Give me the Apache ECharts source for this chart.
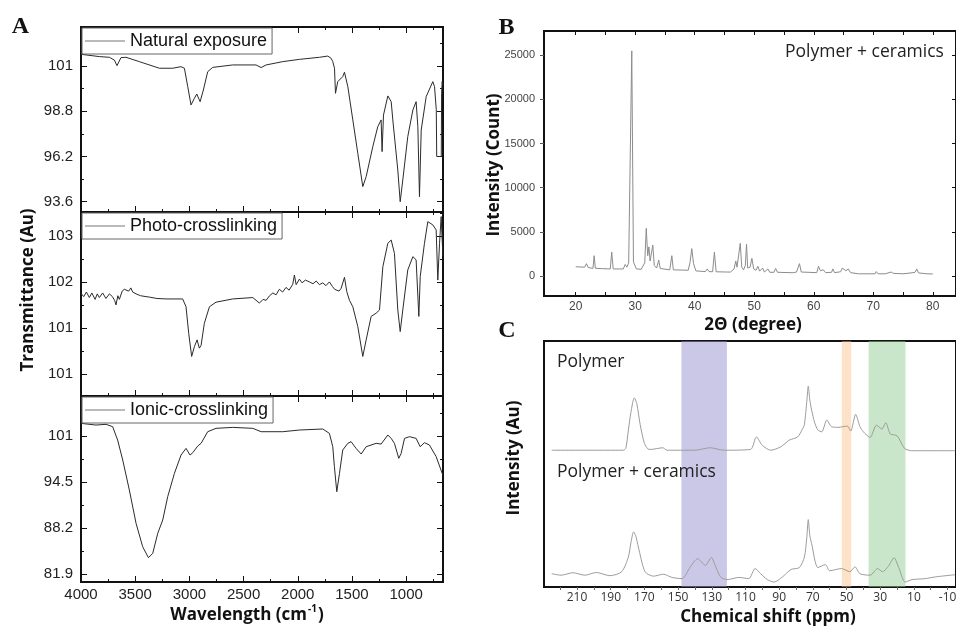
<!DOCTYPE html>
<html>
<head>
<meta charset="utf-8">
<script src="https://cdn.jsdelivr.net/npm/echarts@6/dist/echarts.min.js"></script>
<style>html,body{margin:0;padding:0;background:#fff}#c{width:956px;height:626px}</style>
</head>
<body>
<div id="c"></div>
<script>
// ================= DATA =================
// Panel A : FTIR spectra, [wavenumber cm-1, transmittance]
const naturalExposure = [[4000,102.07],[3831,101.94],[3738,101.90],[3692,101.74],[3668,101.42],[3631,101.88],[3585,101.90],[3462,101.65],[3277,101.27],[3154,101.27],[3077,101.36],[3046,101.27],[3015,100.21],[2985,99.16],[2954,99.54],[2932,99.79],[2901,99.35],[2871,100.02],[2831,101.07],[2785,101.32],[2600,101.46],[2385,101.46],[2338,101.31],[2292,101.46],[2138,101.65],[1985,101.78],[1800,101.90],[1723,101.97],[1692,101.84],[1677,101.65],[1661,101.27],[1652,99.83],[1631,100.50],[1585,100.79],[1569,101.04],[1538,100.21],[1492,98.30],[1446,96.38],[1400,94.47],[1369,95.04],[1308,96.76],[1262,97.91],[1231,98.30],[1222,96.48],[1209,98.58],[1169,99.68],[1138,99.35],[1123,98.30],[1077,95.42],[1055,93.60],[1031,94.85],[985,97.34],[938,98.87],[908,99.35],[892,97.91],[877,93.89],[861,97.72],[815,99.64],[754,100.50],[738,100.21],[722,98.90],[718,96.20],[676,96.20],[673,99.80],[668,100.50],[662,100.30]];
const photoCrosslinking = [[4000,101.75],[3975,101.68],[3950,101.78],[3923,101.66],[3900,101.76],[3870,101.62],[3850,101.74],[3831,101.66],[3800,101.76],[3770,101.64],[3738,101.74],[3710,101.68],[3690,101.60],[3677,101.50],[3660,101.70],[3646,101.62],[3620,101.80],[3600,101.84],[3585,101.88],[3560,101.80],[3540,101.87],[3523,101.78],[3492,101.74],[3450,101.70],[3400,101.68],[3369,101.67],[3300,101.64],[3215,101.63],[3062,101.63],[3031,101.46],[3006,100.88],[2979,100.38],[2954,100.59],[2929,100.74],[2908,100.56],[2892,100.62],[2862,101.10],[2815,101.46],[2754,101.56],[2600,101.63],[2415,101.66],[2354,101.54],[2320,101.62],[2292,101.60],[2260,101.70],[2230,101.76],[2200,101.72],[2170,101.84],[2140,101.78],[2108,101.88],[2080,101.82],[2046,101.95],[2031,102.15],[2015,101.94],[1985,102.06],[1960,101.98],[1930,102.04],[1892,102.00],[1860,101.96],[1830,102.02],[1800,101.94],[1770,101.98],[1740,101.92],[1708,102.00],[1680,101.90],[1660,101.84],[1646,101.88],[1620,101.80],[1600,101.86],[1585,101.88],[1569,102.10],[1548,101.79],[1523,101.60],[1492,101.46],[1446,101.03],[1400,100.38],[1369,100.74],[1323,101.25],[1277,101.32],[1246,101.39],[1215,102.33],[1169,102.84],[1138,102.91],[1108,102.62],[1077,101.39],[1055,100.92],[1031,101.39],[985,102.26],[938,102.55],[908,102.48],[892,102.52],[883,101.25],[870,102.12],[831,102.84],[800,103.31],[754,103.24],[723,103.13],[708,102.04],[692,102.84],[677,103.42],[661,102.55]];
const ionicCrosslinking = [[4000,102.53],[3862,102.30],[3769,102.40],[3708,102.08],[3662,100.25],[3615,97.52],[3554,93.42],[3492,88.87],[3431,85.68],[3378,84.17],[3338,84.77],[3292,87.50],[3246,89.32],[3200,92.51],[3138,95.70],[3077,98.20],[3031,99.11],[2994,98.20],[2969,98.52],[2923,99.43],[2892,99.80],[2831,101.39],[2754,101.85],[2600,101.98],[2415,101.85],[2338,101.39],[2138,101.39],[1985,101.62],[1769,101.76],[1708,101.16],[1677,99.34],[1662,96.61],[1640,93.19],[1615,95.70],[1585,98.89],[1538,99.80],[1508,100.03],[1462,99.11],[1415,98.34],[1369,99.34],[1277,99.80],[1231,99.70],[1169,100.94],[1138,100.48],[1108,99.80],[1068,97.75],[1046,98.43],[1015,100.48],[969,100.71],[908,100.48],[871,99.34],[831,99.89],[785,99.57],[723,97.98],[662,95.47]];

const wnTicks = [4000,3500,3000,2500,2000,1500,1000];
const naturalTickValues = [93.6,96.2,98.8,101.4];
const naturalTickLabels = ['93.6','96.2','98.8','101'];
const photoTickValues = [100,101,102,103];
const photoTickLabels = ['101','101','102','103'];
const ionicTickValues = [81.9,88.2,94.5,100.8];
const ionicTickLabels = ['81.9','88.2','94.5','101'];

// Panel B : XRD, [2theta, count]
const xrdPattern = [[20.0,1050],[21.5,1000],[21.8,1400],[22.1,950],[22.9,870],[23.1,2300],[23.3,880],[24.5,830],[25.8,800],[26.05,2700],[26.3,800],[28.0,800],[28.3,1300],[28.6,1000],[28.9,1500],[29.2,1700],[29.42,25500],[29.7,1600],[30.2,800],[31.0,760],[31.6,1500],[31.85,5400],[32.1,2300],[32.3,3300],[32.5,1700],[32.8,1800],[32.95,3500],[33.2,1200],[33.6,900],[33.95,1800],[34.2,850],[35.8,700],[36.15,2300],[36.4,700],[38.9,650],[39.2,1500],[39.5,3100],[39.8,1400],[40.2,580],[41.8,500],[42.1,800],[42.4,500],[43.0,480],[43.3,2700],[43.6,480],[45.5,450],[46.0,450],[46.6,800],[46.9,1700],[47.1,1000],[47.3,1100],[47.65,3700],[47.9,1000],[48.2,700],[48.5,1200],[48.7,3600],[48.9,900],[49.3,1000],[49.6,2000],[49.9,800],[50.3,650],[50.6,1100],[50.9,550],[51.2,550],[51.4,900],[51.7,450],[52.0,450],[52.3,800],[52.6,420],[53.3,420],[53.6,850],[53.9,420],[56.0,380],[56.3,600],[56.6,380],[57.1,450],[57.6,1400],[57.9,450],[60.5,380],[60.8,1100],[61.1,600],[61.6,700],[62.0,380],[63.0,420],[63.2,800],[63.5,380],[64.5,480],[64.8,900],[65.1,700],[65.4,600],[65.8,800],[66.2,380],[67.5,250],[70.3,250],[70.5,500],[70.8,250],[72.0,250],[73.0,450],[73.4,300],[75.0,250],[77.0,400],[77.3,800],[77.6,350],[79.0,250],[80.0,230]];
const xrdAngleTicks = [20,30,40,50,60,70,80];
const xrdCountTicks = [0,5000,10000,15000,20000,25000];

// Panel C : 13C NMR, [ppm, relative intensity]
const nmrPolymer = [[225,55.6],[182.5,55.6],[181,56.5],[179.5,63.8],[178,71.0],[176,76.9],[174.5,74.5],[172.5,66.0],[170,58.4],[168,56.2],[166.6,55.9],[159,56.6],[156.7,55.6],[140,55.6],[131,56.6],[122.8,55.6],[107,55.9],[103.5,61.0],[100,57.6],[95,55.6],[89,57.0],[84,59.7],[79,61.0],[76,64.4],[75,66.0],[73.5,76.0],[72.7,81.7],[71.8,76.0],[70.7,71.9],[69,67.0],[67,63.8],[64.7,63.1],[61.7,67.9],[59,65.2],[55,64.9],[49.5,65.4],[47.5,63.4],[44.6,70.2],[42,65.2],[40,63.1],[36,60.8],[32.2,65.8],[29,64.2],[26.7,66.8],[24,62.2],[20,61.5],[15.5,56.3],[11.4,55.4],[-14.5,55.4]];
const nmrCeramics = [[225,5.4],[219.5,4.8],[212.4,5.8],[205.4,4.8],[198.5,5.9],[190.5,4.6],[183.5,6.2],[179.5,12.2],[178,18.0],[176.4,22.4],[175,20.5],[173.6,16.3],[169.6,6.2],[164.6,4.4],[158.7,5.2],[153.7,3.9],[147.7,3.4],[142.7,8.2],[138.4,11.5],[133.8,8.8],[130.2,12.0],[128.4,9.5],[124.8,4.1],[120.9,3.0],[113.9,3.9],[108,3.4],[104.3,7.5],[101,5.4],[97,3.0],[93,2.0],[88,4.1],[83,7.1],[78,7.9],[75,12.2],[73.6,20.0],[72.7,27.4],[71.8,21.0],[70.7,17.6],[67,7.9],[62.5,9.1],[60,6.6],[53,7.5],[48,6.2],[45,8.2],[42,5.4],[36,4.8],[31.5,7.5],[28.7,6.2],[25.1,8.5],[21.8,11.9],[18.8,7.5],[15.2,2.0],[11.2,3.0],[3.3,3.4],[-2.7,4.1],[-14.5,5.0]];
const nmrTicks = [210,190,170,150,130,110,90,70,50,30,10,-10];
const nmrBands = [[148,121],[52.8,47.2],[36.9,15]];

// ================= LAYOUT HELPERS =================
function mids(v){const s=v[1]-v[0];const o=v.map(x=>x-s/2);o.push(v[v.length-1]+s/2);return o;}
function mapLabel(vals,labels){return v=>{const i=vals.findIndex(t=>Math.abs(t-v)<1e-6);return i>=0?labels[i]:'';};}
const plain = v => String(v);
function baseAxis(extra){
  return Object.assign({type:'value',axisLine:{show:false,onZero:false},splitLine:{show:false},
    axisTick:{show:false},axisLabel:{show:false},axisPointer:{show:false}},extra);
}
function tickOnly(gridIndex,position,min,max,inverse,values,length,inside){
  return baseAxis({gridIndex,position,min,max,inverse,
    axisTick:{show:true,inside,length,customValues:values,lineStyle:{color:'#111',width:1}}});
}

const AX = {min:660,max:4000};
const aY = [
  {min:93.01,max:103.64,vals:naturalTickValues,labels:naturalTickLabels},
  {min:99.52,max:103.52,vals:photoTickValues,labels:photoTickLabels},
  {min:80.85,max:106.27,vals:ionicTickValues,labels:ionicTickLabels}
];
const wnMinor = wnTicks.map(v=>v-250);
const xrdAngleMinor = [20,25,30,35,40,45,50,55,60,65,70,75,80];
const nmrMinor = [220,210,200,190,180,170,160,150,140,130,120,110,100,90,80,70,60,50,40,30,20,10,0,-10];

const gridBase = {show:true,borderColor:'#111',borderWidth:2,backgroundColor:'transparent',containLabel:false,outerBoundsMode:'none'};
const grid = [
  {left:81,top:27,width:362,height:185},
  {left:81,top:212,width:362,height:184},
  {left:81,top:396,width:362,height:186},
  {left:544,top:31,width:412,height:265},
  {left:544,top:341,width:412,height:246}
].map(g=>Object.assign({},gridBase,g));

const xAxis = [], yAxis = [];
for(let g=0; g<3; g++){
  xAxis.push(baseAxis({gridIndex:g,position:'bottom',min:AX.min,max:AX.max,inverse:true,
    axisTick:{show:true,inside:true,length:6,customValues:wnTicks,lineStyle:{color:'#111'}},
    axisLabel: g===2 ? {show:true,customValues:wnTicks,formatter:plain,margin:5,fontSize:15,fontFamily:'Liberation Sans',color:'#222'} : {show:false}}));
}
xAxis.push(baseAxis({gridIndex:3,position:'bottom',min:14.67,max:83.9,
  axisTick:{show:true,inside:true,length:4,customValues:xrdAngleMinor,lineStyle:{color:'#111'}},
  axisLabel:{show:true,customValues:xrdAngleTicks,formatter:plain,margin:5,fontSize:12,fontFamily:'Liberation Sans',color:'#444'}}));
xAxis.push(baseAxis({gridIndex:4,position:'bottom',min:-15,max:229.6,inverse:true,
  axisTick:{show:true,inside:false,length:3,customValues:nmrMinor,lineStyle:{color:'#666'}},
  axisLabel:{show:true,customValues:nmrTicks,formatter:plain,margin:5,fontSize:12,fontFamily:'Open Sans',color:'#333'}}));

for(let g=0; g<3; g++){
  const a = aY[g];
  yAxis.push(baseAxis({gridIndex:g,position:'left',min:a.min,max:a.max,
    axisTick:{show:true,inside:true,length:6,customValues:a.vals,lineStyle:{color:'#111'}},
    axisLabel:{show:true,customValues:a.vals,formatter:mapLabel(a.vals,a.labels),margin:8,fontSize:15,fontFamily:'Liberation Sans',color:'#222'}}));
}
yAxis.push(baseAxis({gridIndex:3,position:'left',min:-2265,max:27753,
  axisTick:{show:true,inside:false,length:4,customValues:xrdCountTicks,lineStyle:{color:'#555'}},
  axisLabel:{show:true,customValues:xrdCountTicks,formatter:plain,margin:9,fontSize:11,fontFamily:'Liberation Sans',color:'#444'}}));
yAxis.push(baseAxis({gridIndex:4,position:'left',min:0,max:100}));

for(let g=0; g<3; g++){
  const a = aY[g];
  xAxis.push(tickOnly(g,'bottom',AX.min,AX.max,true,wnMinor,3,true));
  xAxis.push(tickOnly(g,'top',AX.min,AX.max,true,wnTicks,6,true));
  xAxis.push(tickOnly(g,'top',AX.min,AX.max,true,wnMinor,3,true));
  yAxis.push(tickOnly(g,'left',a.min,a.max,false,mids(a.vals),3,true));
  yAxis.push(tickOnly(g,'right',a.min,a.max,false,a.vals,6,true));
  yAxis.push(tickOnly(g,'right',a.min,a.max,false,mids(a.vals),3,true));
}
xAxis.push(tickOnly(3,'top',14.67,83.9,false,xrdAngleMinor,4,true));
yAxis.push(tickOnly(3,'right',-2265,27753,false,xrdCountTicks,4,true));

const ftirLine = {type:'line',showSymbol:false,symbol:'none',silent:true,animation:false,
  lineStyle:{color:'#2b2b2b',width:1},itemStyle:{color:'#2b2b2b'}};

const bandColors = ['rgba(150,145,205,0.5)','rgba(252,190,130,0.45)','rgba(150,205,150,0.5)'];

const series = [
  Object.assign({},ftirLine,{name:'Natural exposure',xAxisIndex:0,yAxisIndex:0,data:naturalExposure}),
  Object.assign({},ftirLine,{name:'Photo-crosslinking',xAxisIndex:1,yAxisIndex:1,data:photoCrosslinking}),
  Object.assign({},ftirLine,{name:'Ionic-crosslinking',xAxisIndex:2,yAxisIndex:2,data:ionicCrosslinking}),
  {type:'line',name:'XRD',xAxisIndex:3,yAxisIndex:3,data:xrdPattern,showSymbol:false,symbol:'none',silent:true,animation:false,
    lineStyle:{color:'#8c8c8c',width:1}},
  {type:'line',name:'Polymer',xAxisIndex:4,yAxisIndex:4,data:nmrPolymer,showSymbol:false,symbol:'none',silent:true,animation:false,
    smooth:0.25,lineStyle:{color:'#9c9c9c',width:1},
    markArea:{silent:true,data:nmrBands.map((b,i)=>[{xAxis:b[0],itemStyle:{color:bandColors[i]}},{xAxis:b[1]}])}},
  {type:'line',name:'Polymer + ceramics',xAxisIndex:4,yAxisIndex:4,data:nmrCeramics,showSymbol:false,symbol:'none',silent:true,animation:false,
    smooth:0.25,lineStyle:{color:'#9c9c9c',width:1}}
];

const legendBase = {orient:'horizontal',icon:'rect',itemWidth:40,itemHeight:1,padding:[4,5,4,3],
  borderColor:'#666',borderWidth:1,backgroundColor:'#fff',selectedMode:false,itemStyle:{color:'#777'},
  textStyle:{fontFamily:'Liberation Sans',fontSize:18,color:'#111'}};
const legend = [
  Object.assign({},legendBase,{data:['Natural exposure'],left:82,top:28}),
  Object.assign({},legendBase,{data:['Photo-crosslinking'],left:82,top:213}),
  Object.assign({},legendBase,{data:['Ionic-crosslinking'],left:82,top:397})
];

function txt(x,y,text,font,opts){
  return Object.assign({type:'text',x,y,silent:true,z:100,
    style:Object.assign({text,font,fill:'#111',align:'center',verticalAlign:'middle',textAlign:'center',textVerticalAlign:'middle'},opts&&opts.style||{})},
    opts&&opts.el||{});
}
const titleFont = 'bold 17px "Open Sans"';
const graphic = [
  txt(20.5,27,'A','bold 24px "Liberation Serif"'),
  txt(506.5,27.5,'B','bold 24px "Liberation Serif"'),
  txt(507,331,'C','bold 24px "Liberation Serif"'),
  txt(28.5,290,'Transmittance (Au)',titleFont,{el:{rotation:Math.PI/2}}),
  {type:'text',x:247,y:615,silent:true,z:100,style:{text:'{a|Wavelength (cm}{s|-1}{a|)}',align:'center',verticalAlign:'middle',textAlign:'center',textVerticalAlign:'middle',
    rich:{a:{fontFamily:'Open Sans',fontWeight:'bold',fontSize:17,lineHeight:22,fill:'#111',color:'#111'},
          s:{fontFamily:'Open Sans',fontWeight:'bold',fontSize:10,lineHeight:22,verticalAlign:'top',fill:'#111',color:'#111',padding:[0,1,0,1]}}}},
  txt(494,165,'Intensity (Count)',titleFont,{el:{rotation:Math.PI/2}}),
  txt(753,325,'2Θ (degree)',titleFont),
  txt(514,458,'Intensity (Au)',titleFont,{el:{rotation:Math.PI/2}}),
  txt(768,617,'Chemical shift (ppm)',titleFont),
  txt(785,52,'Polymer + ceramics','17.5px "Open Sans"',{style:{align:'left',textAlign:'left',fill:'#222'}}),
  txt(557,362,'Polymer','17.5px "Open Sans"',{style:{align:'left',textAlign:'left',fill:'#222'}}),
  txt(557,472,'Polymer + ceramics','17.5px "Open Sans"',{style:{align:'left',textAlign:'left',fill:'#222'}})
];

const chart = echarts.init(document.getElementById('c'),null,{renderer:'canvas'});
chart.setOption({animation:false,backgroundColor:'#fff',grid,xAxis,yAxis,series,legend,graphic});
</script>
</body>
</html>
